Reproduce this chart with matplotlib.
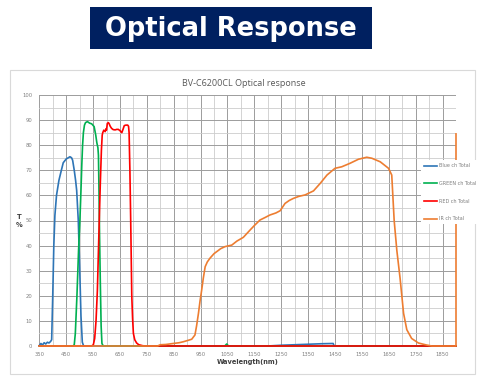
import matplotlib
matplotlib.use('Agg')
import matplotlib.pyplot as plt
from matplotlib.patches import Rectangle
from matplotlib.ticker import MultipleLocator

# transmission curves (wavelength nm, T %)
blue_nm = [350, 356, 362, 368, 374, 380, 386, 392, 396, 400, 404, 408, 414, 423, 432, 439, 450,
           464, 470, 474, 480, 485, 489, 495, 500, 505, 510, 515, 1200, 1250, 1300, 1350, 1400,
           1443, 1447, 1900]
blue_t = [0.2, 1.0, 0.4, 1.3, 0.8, 1.5, 1.2, 1.8, 2.5, 20, 40, 52, 60, 66, 70, 73, 74.5,
          75.4, 75, 74, 70, 66, 62, 50, 32, 12, 1.5, 0, 0, 0.3, 0.5, 0.7, 0.9,
          1.0, 0, 0]

green_nm = [350, 476, 480, 484, 490, 496, 501, 505, 508, 511, 514, 518, 522, 529, 537, 545,
            554, 560, 564, 568, 570, 572, 574, 577, 580, 583, 588, 1040, 1047, 1054, 1900]
green_t = [0, 0, 0.5, 5, 20, 38, 50, 62, 72, 80, 85, 88, 89, 89.4, 88.8, 88.5,
           87.4, 84, 81, 79, 76, 62, 45, 25, 8, 1, 0, 0, 0.8, 0, 0]

red_nm = [350, 545, 551, 556, 561, 566, 570, 573, 577, 581, 584, 586, 590, 595, 598, 600, 603,
          607, 610, 614, 619, 625, 632, 638, 644, 650, 657, 662, 666, 672, 679, 682, 684, 687,
          690, 692, 694, 697, 700, 705, 712, 720, 735, 750, 1900]
red_t = [0, 0, 0.5, 3, 10, 22, 38, 50, 65, 78, 84, 85, 86, 85.4, 86.5, 86, 88.7,
         89, 88.5, 87.5, 86.7, 86.2, 86.1, 86.3, 86.3, 85.8, 85, 86.5, 87.8, 88, 88, 87.5, 85, 70,
         50, 35, 20, 11, 5, 2.5, 1.2, 0.5, 0.1, 0, 0]

ir_nm = [350, 790, 800, 820, 848, 870, 886, 905, 917, 929, 935, 942, 948, 954, 960, 967, 975,
         985, 1000, 1010, 1025, 1041, 1066, 1085, 1109, 1134, 1150, 1171, 1190, 1208, 1230, 1246,
         1264, 1280, 1295, 1315, 1339, 1370, 1395, 1420, 1450, 1475, 1506, 1537, 1568, 1587, 1618,
         1649, 1661, 1670, 1680, 1692, 1705, 1717, 1735, 1760, 1790, 1810, 1900, 1900]
ir_t = [0, 0, 0.5, 0.6, 1.0, 1.3, 1.7, 2.3, 2.7, 4.4, 8, 13, 18, 22.3, 27, 31.6, 33.5,
        35, 36.8, 37.6, 38.8, 39.6, 40.2, 41.8, 43.3, 46.2, 48, 50.2, 51.2, 52.2, 53, 53.9,
        56.8, 58, 58.8, 59.6, 60.2, 61.8, 64.8, 68.1, 70.8, 71.4, 72.8, 74.4, 75.2, 74.8, 73.4,
        70.8, 68.1, 50, 38, 27, 13, 6.5, 3, 1.2, 0.4, 0, 0, 84.5]

series = [
    (blue_nm, blue_t, '#2e75b6', 'Blue ch Total'),
    (green_nm, green_t, '#00b050', 'GREEN ch Total'),
    (red_nm, red_t, '#ff0000', 'RED ch Total'),
    (ir_nm, ir_t, '#ed7d31', 'IR ch Total'),
]
x_ticks = list(range(350, 1851, 100))

W, H = 488, 386
fig = plt.figure(figsize=(W / 100, H / 100), dpi=100)

# banner
fig.patches.append(Rectangle((90 / W, 1 - 49 / H), 282 / W, 42 / H, transform=fig.transFigure,
                             facecolor='#002060', edgecolor='none'))
fig.text(231 / W, 1 - 29 / H, 'Optical Response', color='white', fontsize=18.5,
         fontweight='bold', ha='center', va='center')

# chart frame (behind the axes)
fig.patches.append(Rectangle((10 / W, 1 - 374 / H), 465 / W, 304 / H, transform=fig.transFigure,
                             facecolor='white', edgecolor='#d9d9d9', linewidth=0.8, zorder=-1))

ax = fig.add_axes([39.3 / W, 1 - 346 / H, (456 - 39.3) / W, (346 - 95) / H])
ax.set_facecolor('none')
for nm, t, c, lab in series:
    ax.plot(nm, t, color=c, lw=1.2, label=lab, clip_on=False)

ax.set_xlim(350, 1900)
ax.set_ylim(0, 100)
ax.set_xticks(x_ticks)
ax.xaxis.set_minor_locator(MultipleLocator(50))
ax.yaxis.set_major_locator(MultipleLocator(10))
ax.yaxis.set_minor_locator(MultipleLocator(5))
ax.grid(which='major', color='#9c9c9c', lw=0.7)
ax.grid(which='minor', color='#cccccc', lw=0.6)
ax.set_axisbelow(True)
ax.tick_params(which='both', length=0, labelsize=3.8, colors='#808080')
ax.tick_params(axis='y', pad=5)
ax.tick_params(axis='x', pad=4)
for s in ax.spines.values():
    s.set_visible(False)

fig.text(243.5 / W, 1 - 84 / H, 'BV-C6200CL Optical response', family='Open Sans', fontsize=6.5,
         color='#595959', ha='center', va='center')
fig.text(248 / W, 1 - 362 / H, 'Wavelength(nm)', fontsize=4.8, fontweight='bold',
         color='#404040', ha='center', va='center')
fig.text(19 / W, 1 - 221 / H, 'T\n%', fontsize=4.8, fontweight='bold', color='#404040',
         ha='center', va='center', linespacing=1.3)

fig.legend(loc='upper left', bbox_to_anchor=(419 / W, 1 - 158 / H), fontsize=3.5,
           frameon=True, facecolor='white', edgecolor='none', framealpha=1,
           handlelength=2.7, labelspacing=2.6, borderpad=0.6, handletextpad=0.3,
           labelcolor='#7f7f7f')

plt.savefig('out.png', dpi=100)
